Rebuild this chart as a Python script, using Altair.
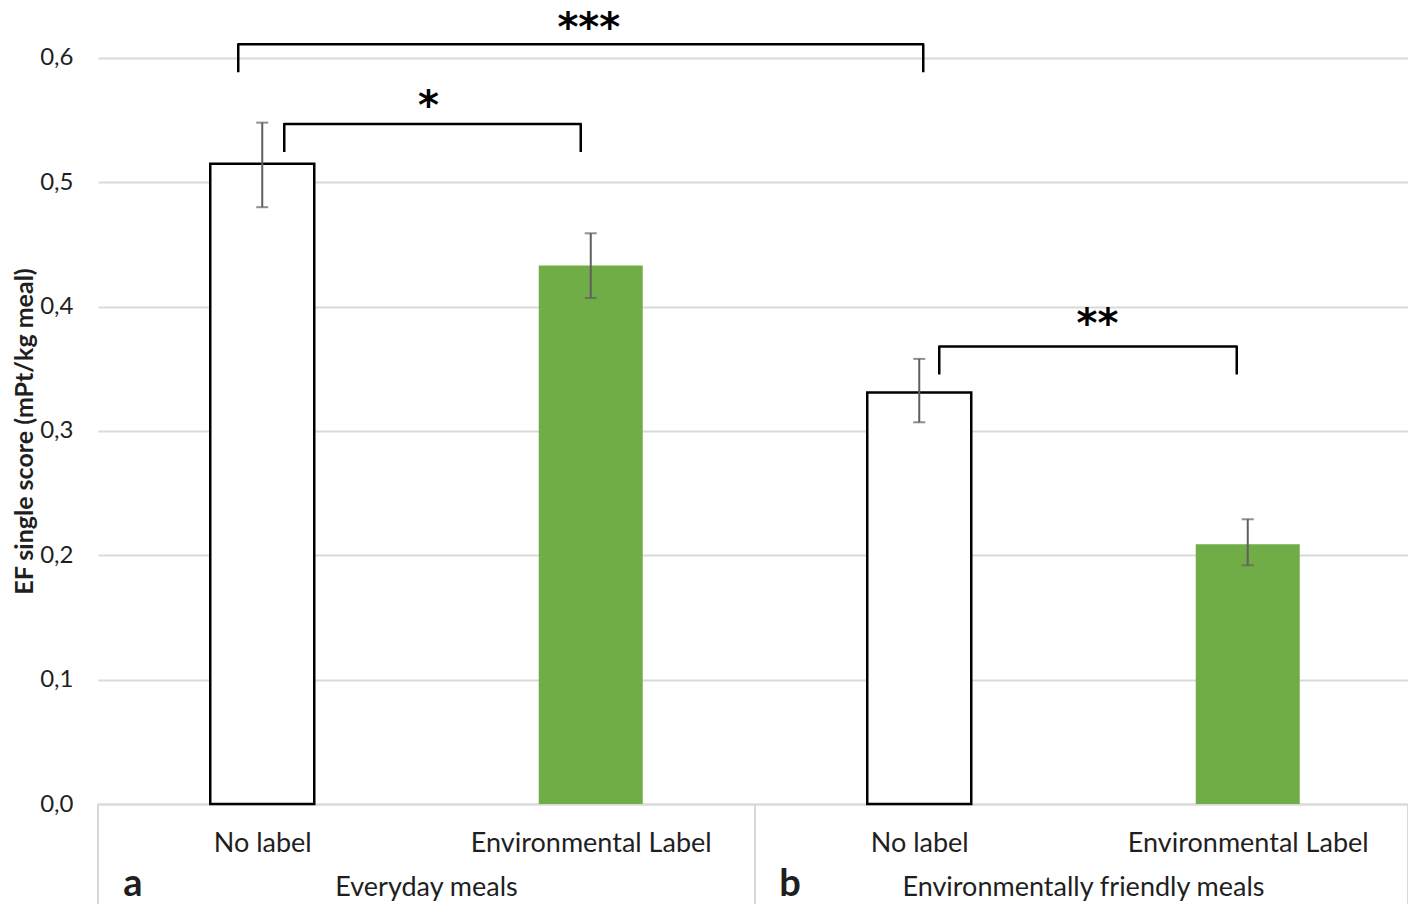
import altair as alt
import pandas as pd

# ---------------- data ----------------
categories = ["No label", "Environmental Label", "No label", "Environmental Label"]
labelled = [False, True, False, True]
means = [0.515, 0.433, 0.331, 0.209]
err_low = [0.480, 0.407, 0.307, 0.192]
err_high = [0.548, 0.459, 0.358, 0.229]

group_names = ["Everyday meals", "Environmentally friendly meals"]
panel_letters = ["a", "b"]

bracket_from = [0, 0, 2]       # bar index where the bracket starts
bracket_to = [2, 1, 3]         # bar index where the bracket ends
bracket_top = [0.611, 0.547, 0.368]
bracket_stars = ["***", "*", "**"]

y_ticks = [0.0, 0.1, 0.2, 0.3, 0.4, 0.5, 0.6]

# ---------------- style ----------------
STEP = 328.5                          # px per category
W, H = 1310, 796
X_MAX = W / STEP
Y_MAX = 0.6402
PX = 1.0 / STEP                       # one px in x data units
PY = Y_MAX / H                        # one px in y data units
BAR_W = 104
BR_DX_L = [-24, 22, 20]
BR_DX_R = [4, -10, -11]
STAR_DX = [-2, 2, 14]
STAR_UP = [24, 26, 30]
BR_DROP = 28
GREEN = "#70AD47"
GRID = "#d9d9d9"
TXT = "#1f1f1f"
FONT = "Lato"

centers = [i + 0.5 for i in range(len(categories))]
bars = pd.DataFrame({
    "cat": categories,
    "mean": means,
    "lo": err_low,
    "hi": err_high,
    "labelled": labelled,
    "xc": centers,
    "x1": [c - BAR_W / 2 * PX for c in centers],
    "x2": [c + BAR_W / 2 * PX for c in centers],
})

rows = []
for i in range(len(bracket_from)):
    xl = centers[bracket_from[i]] + BR_DX_L[i] * PX
    xr = centers[bracket_to[i]] + BR_DX_R[i] * PX
    top = bracket_top[i]
    low = top - BR_DROP * PY
    for k, (xx, yy) in enumerate([(xl, low), (xl, top), (xr, top), (xr, low)]):
        rows.append({"b": i, "k": k, "x": xx, "y": yy})
brackets = pd.DataFrame(rows)

stars = pd.DataFrame({
    "s": bracket_stars,
    "x": [(centers[a] + centers[b]) / 2 + d * PX
          for a, b, d in zip(bracket_from, bracket_to, STAR_DX)],
    "y": [t + u * PY for t, u in zip(bracket_top, STAR_UP)],
})

groups = pd.DataFrame({
    "g": group_names,
    "letter": panel_letters,
    "xc": [(centers[0] + centers[1]) / 2, (centers[2] + centers[3]) / 2],
    "x0": [0.0, 2.0],
})
seps = pd.DataFrame({"x": [0.0, 2.0, X_MAX]})

xscale = alt.Scale(domain=[0, X_MAX], nice=False, zero=False)
yscale = alt.Scale(domain=[0, Y_MAX], nice=False)

label_expr = "[" + ",".join("'" + c + "'" for c in categories) + "][floor(datum.value)]"

x_axis = alt.Axis(
    values=centers, labelExpr=label_expr, title=None, grid=False, ticks=False,
    tickSize=0, domainColor=GRID, domainWidth=2, labelFontSize=27, labelFont=FONT,
    labelColor=TXT, labelPadding=39, labelBaseline="middle", labelAngle=0,
    labelLimit=0,
)
y_axis = alt.Axis(
    values=y_ticks, labelExpr="replace(format(datum.value, '.1f'), '.', ',')",
    title="EF single score (mPt/kg meal)", titleFont=FONT, titleFontSize=25,
    titleFontWeight="bold", titleColor=TXT, titleX=-74, titleY=423,
    titleBaseline="middle", grid=True, gridColor=GRID, gridWidth=2, domain=False,
    ticks=False, tickSize=0, labelFontSize=24, labelFont=FONT, labelColor=TXT,
    labelPadding=25,
)

base = alt.Chart(bars)

white_bars = base.transform_filter("!datum.labelled").mark_rect(
    fill="white", stroke="black", strokeWidth=2.5
).encode(
    x=alt.X("x1:Q", scale=xscale, axis=x_axis),
    x2="x2:Q",
    y=alt.Y("mean:Q", scale=yscale, axis=y_axis),
    y2=alt.datum(0),
)
green_bars = base.transform_filter("datum.labelled").mark_rect(fill=GREEN).encode(
    x=alt.X("x1:Q", scale=xscale), x2="x2:Q",
    y=alt.Y("mean:Q", scale=yscale), y2=alt.datum(0),
)
err = base.mark_rule(color="#5f5f5f", strokeWidth=2).encode(
    x=alt.X("xc:Q", scale=xscale), y=alt.Y("lo:Q", scale=yscale), y2="hi:Q"
)
cap_lo = base.mark_tick(orient="horizontal", size=12, thickness=2, color="#5f5f5f").encode(
    x=alt.X("xc:Q", scale=xscale), y=alt.Y("lo:Q", scale=yscale)
)
cap_hi = base.mark_tick(orient="horizontal", size=12, thickness=2, color="#5f5f5f").encode(
    x=alt.X("xc:Q", scale=xscale), y=alt.Y("hi:Q", scale=yscale)
)

bracket_lines = alt.Chart(brackets).mark_line(
    color="black", strokeWidth=2.5, strokeJoin="round"
).encode(
    x=alt.X("x:Q", scale=xscale), y=alt.Y("y:Q", scale=yscale),
    detail="b:N", order="k:Q",
)
star_text = alt.Chart(stars).mark_text(
    font="DejaVu Sans", fontWeight="bold", fontSize=40, color="black",
    baseline="middle", dy=9,
).encode(x=alt.X("x:Q", scale=xscale), y=alt.Y("y:Q", scale=yscale), text="s:N")

sep_rules = alt.Chart(seps).mark_rule(color=GRID, strokeWidth=2).encode(
    x=alt.X("x:Q", scale=xscale), y=alt.value(H), y2=alt.value(H + 120)
)
group_text = alt.Chart(groups).mark_text(
    font=FONT, fontSize=27, color=TXT, baseline="middle"
).encode(x=alt.X("xc:Q", scale=xscale), y=alt.value(H + 84), text="g:N")
letter_text = alt.Chart(groups).mark_text(
    font=FONT, fontSize=38, fontWeight="bold", color=TXT, baseline="alphabetic", dx=35
).encode(x=alt.X("x0:Q", scale=xscale), y=alt.value(H + 92), text="letter:N")

chart = alt.layer(
    sep_rules, white_bars, green_bars, err, cap_lo, cap_hi,
    bracket_lines, star_text, group_text, letter_text,
).properties(
    width=W, height=H,
    padding={"left": 90, "top": 0, "right": 0, "bottom": 100},
    autosize=alt.AutoSizeParams(type="none"),
).configure(background="white").configure_view(stroke=None)

chart.save("out.html", embed_options={"renderer": "svg", "actions": False})
